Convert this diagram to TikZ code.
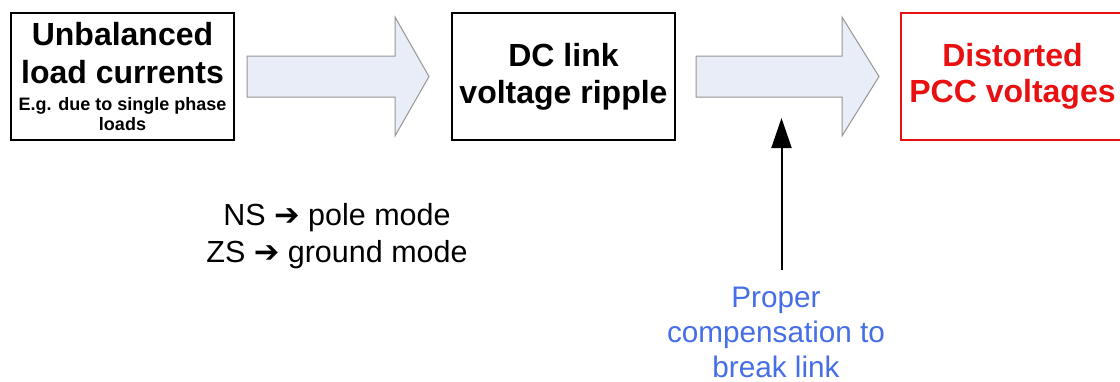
\documentclass[tikz,border=0pt]{standalone}
\usepackage{fontspec}
\setmainfont{Liberation Sans}
\newfontfamily\symfont{DejaVu Sans}
\usetikzlibrary{calc,arrows.meta}
\definecolor{arrowfill}{RGB}{232,237,248}
\definecolor{arrowedge}{RGB}{150,150,150}
\definecolor{pccred}{RGB}{232,16,16}
\definecolor{noteblue}{RGB}{70,110,230}
\tikzset{
  blockbox/.style={draw=black, line width=2pt, minimum width=223pt, minimum height=127pt,
    inner sep=0pt, align=center},
  redbox/.style={blockbox, draw=pccred, text=pccred},
  flowarrow/.style={fill=arrowfill, draw=arrowedge, line width=1pt, line join=miter},
  pointer/.style={draw=black, line width=2pt, -{Triangle[width=20pt,length=30pt]}},
  plaintext/.style={inner sep=0pt, align=center},
}
\begin{document}
\begin{tikzpicture}[x=1pt,y=-1pt]
\useasboundingbox (0,0) rectangle (1120,381);
\clip (0,0) rectangle (1120,381);
\fill[white] (0,0) rectangle (1120,381);

\node[blockbox, font=\bfseries\fontsize{32}{38}\selectfont] (b1) at (122.5,76.5) {%
  Unbalanced\\ load currents\\[-11pt]
  {\fontsize{18}{20}\selectfont E.g. due to single phase}\\[-18pt]
  {\fontsize{18}{20}\selectfont loads}};
\node[blockbox, font=\bfseries\fontsize{32}{37}\selectfont] (b2) at (563.5,76.5)
  {DC link\\ voltage ripple};
\node[redbox, font=\bfseries\fontsize{32}{36}\selectfont] (b3) at (1012.5,76.5)
  {Distorted\\ PCC voltages};

% block arrow b1 -> b2
\coordinate (a1s) at ($(b1.east)+(12,0)$);
\coordinate (a1t) at ($(b2.west)+(-22,0)$);
\draw[flowarrow] ($(a1s)+(0,-20.5)$) -- ($(a1t)+(-34,-20.5)$) -- ($(a1t)+(-34,-59.5)$)
  -- (a1t) -- ($(a1t)+(-34,59.5)$) -- ($(a1t)+(-34,20.5)$) -- ($(a1s)+(0,20.5)$) -- cycle;

% block arrow b2 -> b3
\coordinate (a2s) at ($(b2.east)+(20,0)$);
\coordinate (a2t) at ($(b3.west)+(-21,0)$);
\draw[flowarrow] ($(a2s)+(0,-20.5)$) -- ($(a2t)+(-37,-20.5)$) -- ($(a2t)+(-37,-59.5)$)
  -- (a2t) -- ($(a2t)+(-37,59.5)$) -- ($(a2t)+(-37,20.5)$) -- ($(a2s)+(0,20.5)$) -- cycle;

% modes text
\node[plaintext, font=\fontsize{30.5}{37}\selectfont, anchor=base] (modes) at (337,262)
  {NS {\symfont\bfseries ➔} pole mode\\ ZS {\symfont\bfseries ➔} ground mode};

% compensation text and pointer
\node[plaintext, font=\fontsize{29.7}{35}\selectfont, text=noteblue, anchor=base] (comp) at (776,377)
  {Proper\\ compensation to\\ break link};
\coordinate (ptail) at (781.5,270);
\coordinate (ptip) at (781.5,118);
\draw[pointer] (ptail) -- (ptip);
\end{tikzpicture}
\end{document}
